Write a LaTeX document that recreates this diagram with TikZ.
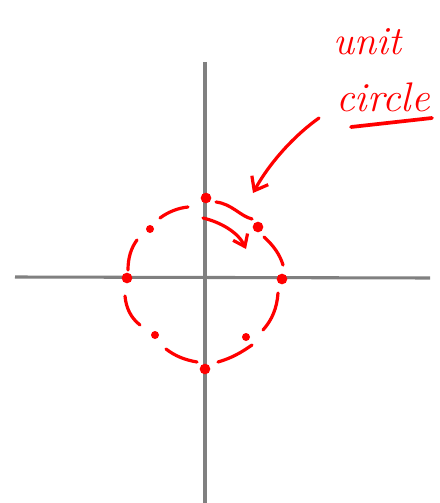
\documentclass[tikz,border=0pt]{standalone}
\usetikzlibrary{arrows.meta}
\begin{document}
\begin{tikzpicture}[x=0.75pt,y=-0.75pt,
  axis/.style={draw=gray, line width=2.3pt},
  ink/.style={draw=red, line width=2.4pt, line cap=round},
  dot/.style={circle, fill=red, inner sep=0pt, minimum size=6pt},
  bigdot/.style={circle, fill=red, inner sep=0pt, minimum size=8pt},
  label/.style={text=red, font=\fontsize{30}{34}\selectfont\itshape, inner sep=0pt}]
\useasboundingbox (0,0) rectangle (439,503);
% axes
\coordinate (ytop) at (205,62);
\coordinate (ybot) at (205,503);
\coordinate (xl) at (15,277);
\coordinate (xr) at (430,278);
\draw[axis] (ytop) -- (ybot);
\draw[axis] (xl) -- (xr);
% dots
\node[bigdot] (top) at (206,198) {};
\node[bigdot] (bot) at (205,369) {};
\node[bigdot] (lft) at (127,278) {};
\node[bigdot] (rgt) at (282,279) {};
\node[dot] (ul) at (150,229) {};
\node[bigdot] (ur) at (258,227) {};
\node[dot] (ll) at (155,335) {};
\node[dot] (lr) at (246,337) {};
% dashed circle arcs
\draw[ink] (216,202) .. controls (232,204) and (240,216) .. (252,219);
\draw[ink] (264,237) .. controls (274,246) and (280,255) .. (283,265);
\draw[ink] (278,293) .. controls (277,308) and (272,320) .. (263,330);
\draw[ink] (252,345) .. controls (242,352) and (232,358) .. (218,362);
\draw[ink] (197,362) .. controls (185,360) and (175,356) .. (166,349);
\draw[ink] (140,325) .. controls (131,318) and (126,308) .. (125,296);
\draw[ink] (128,270) .. controls (128,258) and (131,248) .. (137,240);
\draw[ink] (160,218) .. controls (168,212) and (178,208) .. (188,207);
% labels
\node[label] (unit) at (367,42) {unit};
\node[label, font=\fontsize{31}{35}\selectfont\itshape] (circ) at (383,97) {circle};
\coordinate (ul1) at (351,127);
\coordinate (ul2) at (432,118);
\draw[ink, line width=2.8pt] (ul1) -- (ul2);
% arrows
\coordinate (a1) at (319,118);
\coordinate (a1e) at (253,193);
\draw[ink, -{Straight Barb[length=9pt,width=14pt]}] (a1) .. controls (295,135) and (270,162) .. (a1e);
\coordinate (a2s) at (203,218);
\coordinate (a2e) at (246,249);
\draw[ink, -{Straight Barb[length=8pt,width=12pt]}] (a2s) .. controls (220,222) and (238,232) .. (a2e);
\end{tikzpicture}
\end{document}
